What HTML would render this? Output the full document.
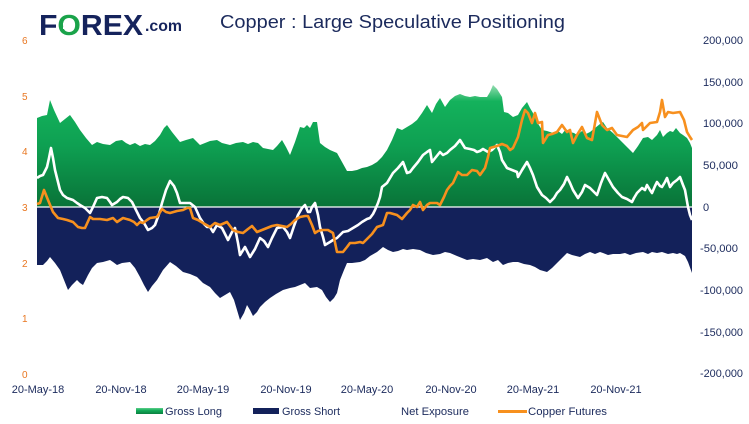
<!DOCTYPE html>
<html><head><meta charset="utf-8">
<style>
html,body{margin:0;padding:0;background:#fff;}
svg{display:block;}
text{font-family:"Liberation Sans",sans-serif;}
</style></head>
<body>
<svg width="749" height="424" viewBox="0 0 749 424" xmlns="http://www.w3.org/2000/svg">
<defs>
<linearGradient id="gl" gradientUnits="userSpaceOnUse" x1="0" y1="84" x2="0" y2="207">
<stop offset="0" stop-color="#9adfb5"/>
<stop offset="0.14" stop-color="#14b25c"/>
<stop offset="0.5" stop-color="#0ea052"/>
<stop offset="1" stop-color="#097338"/>
</linearGradient>
<linearGradient id="gls" x1="0" y1="0" x2="0" y2="1">
<stop offset="0" stop-color="#5fcf8c"/>
<stop offset="0.4" stop-color="#12ab58"/>
<stop offset="1" stop-color="#0a8040"/>
</linearGradient>
</defs>

<!-- Logo -->
<text x="39" y="35" font-size="29" font-weight="bold" fill="#15235c" textLength="104" lengthAdjust="spacingAndGlyphs">F<tspan fill="#1aa34a">O</tspan>REX</text>
<rect x="63" y="23" width="7" height="2" fill="#fff"/>
<rect x="63" y="27" width="7" height="2" fill="#fff"/>
<text x="145" y="31" font-size="16" font-weight="bold" fill="#15235c" textLength="37" lengthAdjust="spacingAndGlyphs">.com</text>

<!-- Title -->
<text x="220" y="28" font-size="18.5" fill="#1b2a5c" textLength="345" lengthAdjust="spacingAndGlyphs">Copper : Large Speculative Positioning</text>

<!-- Gross Long -->
<polygon fill="url(#gl)" points="37,207 37,118 42,116 47,115 50,100 54,110 60,123 65,119 70,115 75,122 80,130 86,138 92,145 97,142 103,144 110,145 116,141 122,140 126,143 130,145 135,143 140,146 145,144 150,145 155,141 160,135 164,128 167,125 172,132 176,137 180,142 186,140 193,138 197,142 200,145 205,143 210,141 217,140 222,143 226,144 230,145 236,143 243,142 248,144 253,142 258,143 263,148 268,149 273,150 277,146 282,140 286,147 290,155 295,142 300,127 304,128 307,125 310,128 313,122 317,122 320,143 325,147 330,150 337,153 342,162 347,171 352,171 357,170 362,168 367,167 372,165 377,162 382,157 387,150 392,140 397,128 402,130 407,127 412,124 417,120 422,113 427,105 432,113 436,104 440,98 445,107 450,100 455,96 460,94 465,96 470,97 475,96 480,97 487,97 490,92 493,85 497,89 502,97 504,112 508,113 513,117 518,115 522,108 527,102 530,108 533,113 537,122 542,130 547,131 553,133 558,131 562,134 566,129 570,132 574,133 577,135 582,131 586,134 590,132 595,128 600,124 603,122 607,128 613,133 618,138 623,143 628,148 633,153 638,146 643,138 648,137 652,140 657,135 660,130 663,137 667,133 670,131 673,132 676,128 680,133 683,135 687,138 690,143 692,148 692,207"/>

<!-- Gross Short -->
<polygon fill="#13215a" points="37,207 37,265 43,265 47,261 50,257 55,263 60,270 64,280 68,290 72,285 77,280 80,283 83,285 88,275 92,268 97,263 103,262 110,260 113,262 117,265 122,263 130,262 135,268 140,277 144,285 148,292 152,286 157,280 163,270 170,262 176,266 183,272 190,274 197,277 203,283 210,287 215,293 220,298 225,295 230,292 234,300 237,310 240,320 244,313 247,305 250,310 253,316 257,312 260,307 265,302 270,298 276,294 283,290 290,288 295,287 300,285 305,283 310,288 317,287 322,290 326,297 330,302 334,298 337,293 340,280 344,270 347,263 352,263 360,262 365,260 370,256 377,252 383,247 388,250 393,252 398,251 403,249 407,250 413,249 420,250 426,253 433,255 440,254 445,252 450,253 457,256 462,258 467,260 473,259 480,260 487,258 493,262 498,260 503,265 508,263 513,262 518,262 524,264 530,265 535,267 540,270 547,272 552,268 558,262 563,257 567,253 572,255 576,256 580,257 585,254 590,252 595,254 600,252 603,253 608,255 613,254 620,254 625,253 630,255 636,253 643,252 648,254 652,252 657,253 662,252 668,254 673,253 677,254 680,253 685,256 688,262 692,273 692,207"/>

<!-- zero line -->
<line x1="37" y1="207" x2="692" y2="207" stroke="#ffffff" stroke-width="1.2"/>

<!-- Net exposure -->
<polyline fill="none" stroke="#ffffff" stroke-width="2.6" stroke-linejoin="round" points="37,178 40,176 43,175 47,167 49,158 51,148 53,158 55,170 58,182 60,190 63,195 67,198 73,200 77,203 80,205 85,208 88,211 90,213 93,207 97,198 102,197 107,198 110,202 112,205 117,202 120,199 123,197 128,198 132,202 136,210 140,218 144,223 148,230 152,228 155,225 159,214 162,203 166,190 170,181 174,186 177,193 180,203 185,203 190,203 195,207 200,218 204,224 207,227 210,227 213,232 217,225 222,228 225,234 228,240 232,232 235,228 238,243 240,255 245,247 250,257 255,249 260,238 264,241 268,247 272,238 277,228 283,227 287,232 290,238 294,226 298,215 302,208 305,205 308,212 310,212 312,207 315,203 318,215 320,227 323,237 325,245 330,242 333,240 337,238 340,235 343,232 348,231 353,228 358,225 362,222 367,219 370,218 373,214 375,210 378,203 380,197 382,187 387,183 390,178 393,173 398,168 403,162 407,173 410,172 413,168 418,162 423,155 427,152 430,150 432,162 436,157 440,152 443,155 447,153 450,150 455,146 460,140 465,148 470,149 474,150 477,152 480,151 483,149 488,152 492,150 497,145 500,152 502,160 507,168 512,170 517,172 518,177 522,170 527,162 530,168 533,175 537,187 542,195 546,198 550,202 554,198 557,193 560,190 564,184 567,177 570,183 573,190 578,198 582,192 585,185 590,188 594,192 597,195 601,183 605,173 609,180 613,187 618,193 622,197 627,199 632,202 634,198 637,193 640,190 642,188 645,190 647,185 650,190 652,193 655,186 657,182 660,186 662,187 665,182 667,178 670,187 673,183 677,180 680,177 683,185 685,190 688,207 690,215 692,220"/>

<!-- Copper futures -->
<polyline fill="none" stroke="#f7901e" stroke-width="2.6" stroke-linejoin="round" points="37,204 40,203 44,190 48,200 53,212 58,218 63,219 67,220 73,222 78,227 82,228 85,228 90,217 93,219 100,219 107,220 113,218 117,222 123,218 130,220 134,222 137,225 140,222 143,223 147,220 150,218 157,217 162,209 166,212 170,213 177,211 183,210 187,208 190,208 193,218 198,220 203,223 210,227 215,223 220,225 227,222 233,230 238,232 243,233 248,229 252,226 257,232 262,230 267,228 272,226 277,225 282,226 287,227 291,224 295,220 300,217 305,216 308,216 312,225 315,233 318,231 322,230 328,230 333,233 337,252 343,252 347,247 350,243 355,243 360,242 363,243 368,238 372,234 377,227 383,225 387,213 390,213 397,215 402,219 407,213 410,210 413,205 417,207 420,202 423,210 427,205 430,203 437,203 440,205 444,197 447,190 450,186 453,183 458,172 462,175 467,175 472,170 477,171 480,175 485,168 488,157 490,148 497,146 502,144 507,146 510,150 513,148 518,137 522,120 525,110 528,113 532,123 535,113 538,123 542,122 543,143 548,135 552,134 557,132 562,125 567,132 570,130 573,143 577,135 582,127 587,138 592,140 597,112 602,125 607,130 612,128 617,135 622,136 627,137 633,130 638,127 642,123 643,130 650,123 657,122 660,112 662,100 665,117 668,112 673,113 680,112 684,120 687,132 690,137 692,140"/>

<!-- Left axis -->
<g font-size="10" fill="#e87722">
<text x="22" y="44">6</text>
<text x="22" y="100">5</text>
<text x="22" y="155">4</text>
<text x="22" y="211">3</text>
<text x="22" y="267">2</text>
<text x="22" y="322">1</text>
<text x="22" y="378">0</text>
</g>

<!-- Right axis -->
<g font-size="11" fill="#1b2a5c">
<text x="703" y="44" textLength="40" lengthAdjust="spacingAndGlyphs">200,000</text>
<text x="703" y="86" textLength="40" lengthAdjust="spacingAndGlyphs">150,000</text>
<text x="703" y="127" textLength="40" lengthAdjust="spacingAndGlyphs">100,000</text>
<text x="703" y="169" textLength="35" lengthAdjust="spacingAndGlyphs">50,000</text>
<text x="703" y="211">0</text>
<text x="700" y="252" textLength="38" lengthAdjust="spacingAndGlyphs">-50,000</text>
<text x="700" y="294" textLength="43" lengthAdjust="spacingAndGlyphs">-100,000</text>
<text x="700" y="336" textLength="43" lengthAdjust="spacingAndGlyphs">-150,000</text>
<text x="700" y="377" textLength="43" lengthAdjust="spacingAndGlyphs">-200,000</text>
</g>

<!-- X axis -->
<g font-size="11" fill="#1b2a5c" text-anchor="middle">
<text x="38" y="393">20-May-18</text>
<text x="121" y="393">20-Nov-18</text>
<text x="203" y="393">20-May-19</text>
<text x="286" y="393">20-Nov-19</text>
<text x="367" y="393">20-May-20</text>
<text x="451" y="393">20-Nov-20</text>
<text x="533" y="393">20-May-21</text>
<text x="616" y="393">20-Nov-21</text>
</g>

<!-- Legend -->
<rect x="136" y="408" width="27" height="6" fill="url(#gls)"/>
<text x="165" y="415" font-size="11" fill="#1b2a5c" textLength="57" lengthAdjust="spacingAndGlyphs">Gross Long</text>
<rect x="253" y="408" width="26" height="6" fill="#13215a"/>
<text x="282" y="415" font-size="11" fill="#1b2a5c" textLength="58" lengthAdjust="spacingAndGlyphs">Gross Short</text>
<text x="401" y="415" font-size="11" fill="#1b2a5c" textLength="68" lengthAdjust="spacingAndGlyphs">Net Exposure</text>
<rect x="498" y="410" width="29" height="3" fill="#f7901e"/>
<text x="528" y="415" font-size="11" fill="#1b2a5c" textLength="79" lengthAdjust="spacingAndGlyphs">Copper Futures</text>
</svg>
</body></html>
